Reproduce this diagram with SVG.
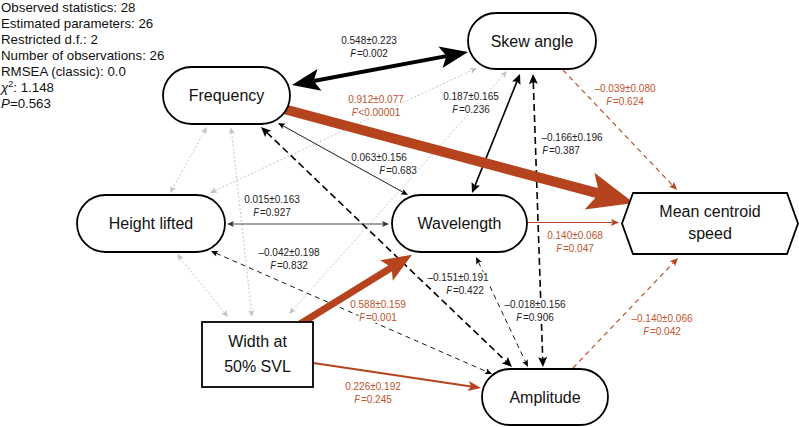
<svg xmlns="http://www.w3.org/2000/svg" width="799" height="427" viewBox="0 0 799 427">
<style>
text{font-family:"Liberation Sans",Arial,sans-serif;}
.stat{font-size:13.3px;fill:#111;}
.lbl{font-size:10px;text-anchor:middle;fill:#222;paint-order:stroke;stroke:#fff;stroke-width:4px;stroke-linejoin:round;}
.lo{fill:#c0532c;}
.nt{font-size:16px;text-anchor:middle;fill:#111;}
.node{fill:#fff;stroke:#000;stroke-width:1.8;}
.c{fill:none;}
.k4{stroke:#000;stroke-width:4;}
.k2{stroke:#000;stroke-width:1.6;}
.k1{stroke:#000;stroke-width:0.9;}
.dg{stroke:#444;stroke-width:1;}
.kd2{stroke:#000;stroke-width:1.6;stroke-dasharray:7 4;}
.kd1{stroke:#000;stroke-width:0.9;stroke-dasharray:5 4;}
.g{stroke:#c4c4c4;stroke-width:1;stroke-dasharray:2 2;}
.o10{stroke:#b5441e;stroke-width:10;}
.o7{stroke:#b5441e;stroke-width:7;}
.o2{stroke:#b5441e;stroke-width:2.2;}
.o1{stroke:#b5441e;stroke-width:1.2;}
.od{stroke:#b5441e;stroke-width:1.1;stroke-dasharray:5 4;}
</style>
<defs>
<marker id="mBigK" markerUnits="userSpaceOnUse" markerWidth="30" markerHeight="24" viewBox="0 -12 28 24" refX="6" refY="0" orient="auto-start-reverse"><path d="M28,0 L0,-11 L6,0 L0,11 Z" fill="#000"/></marker>
<marker id="mBigO" markerUnits="userSpaceOnUse" markerWidth="48" markerHeight="40" viewBox="0 -20 46 40" refX="10" refY="0" orient="auto-start-reverse"><path d="M46,0 L0,-19 L10,0 L0,19 Z" fill="#b5441e"/></marker>
<marker id="mMedO" markerUnits="userSpaceOnUse" markerWidth="32" markerHeight="26" viewBox="0 -13 30 26" refX="6" refY="0" orient="auto-start-reverse"><path d="M30,0 L0,-12 L6,0 L0,12 Z" fill="#b5441e"/></marker>
<marker id="mO2" markerUnits="userSpaceOnUse" markerWidth="14" markerHeight="12" viewBox="0 -6 13 12" refX="3" refY="0" orient="auto-start-reverse"><path d="M13,0 L0,-5 L3,0 L0,5 Z" fill="#b5441e"/></marker>
<marker id="mO1" markerUnits="userSpaceOnUse" markerWidth="9" markerHeight="8" viewBox="0 -4 8 8" refX="1.5" refY="0" orient="auto-start-reverse"><path d="M8,0 L0,-3.5 L1.5,0 L0,3.5 Z" fill="#b5441e"/></marker>
<marker id="mK2" markerUnits="userSpaceOnUse" markerWidth="11" markerHeight="10" viewBox="0 -5 10 10" refX="2" refY="0" orient="auto-start-reverse"><path d="M10,0 L0,-4.5 L2,0 L0,4.5 Z" fill="#000"/></marker>
<marker id="mK1" markerUnits="userSpaceOnUse" markerWidth="8" markerHeight="7" viewBox="0 -3.5 7 7" refX="1.5" refY="0" orient="auto-start-reverse"><path d="M7,0 L0,-3 L1.5,0 L0,3 Z" fill="#000"/></marker>
<marker id="mDG" markerUnits="userSpaceOnUse" markerWidth="8" markerHeight="7" viewBox="0 -3.5 7 7" refX="1.5" refY="0" orient="auto-start-reverse"><path d="M7,0 L0,-3 L1.5,0 L0,3 Z" fill="#333"/></marker>
<marker id="mG" markerUnits="userSpaceOnUse" markerWidth="8" markerHeight="7" viewBox="0 -3.5 7 7" refX="1.5" refY="0" orient="auto-start-reverse"><path d="M7,0 L0,-3 L1.5,0 L0,3 Z" fill="#c4c4c4"/></marker>
</defs>

<g id="stats">
<text class="stat" x="1" y="11.5">Observed statistics: 28</text>
<text class="stat" x="1" y="27.5">Estimated parameters: 26</text>
<text class="stat" x="1" y="43.5">Restricted d.f.: 2</text>
<text class="stat" x="1" y="59.5">Number of observations: 26</text>
<text class="stat" x="1" y="75.5">RMSEA (classic): 0.0</text>
<text class="stat" x="1" y="91.5"><tspan font-style="italic">χ</tspan><tspan font-size="9" dy="-5">2</tspan><tspan dy="5">: 1.148</tspan></text>
<text class="stat" x="1" y="107.5"><tspan font-style="italic">P</tspan>=0.563</text>
</g>

<g id="connectors">
<line class="c g" x1="204.3" y1="131.8" x2="172.7" y2="188.2" marker-start="url(#mG)" marker-end="url(#mG)"/>
<line class="c g" x1="231.6" y1="132.5" x2="251.4" y2="311.5" marker-start="url(#mG)" marker-end="url(#mG)"/>
<line class="c g" x1="180.5" y1="258.3" x2="224.5" y2="312.7" marker-start="url(#mG)" marker-end="url(#mG)"/>
<line class="c g" x1="215.0" y1="190.7" x2="472.0" y2="70.3" marker-start="url(#mG)" marker-end="url(#mG)"/>
<line class="c g" x1="292.7" y1="309.9" x2="503.3" y2="75.1" marker-start="url(#mG)" marker-end="url(#mG)"/>

<line class="c k4" x1="313.6" y1="81.0" x2="446.4" y2="56.1" marker-start="url(#mBigK)" marker-end="url(#mBigK)"/>
<line class="c k2" x1="517.0" y1="81.4" x2="475.0" y2="185.6" marker-start="url(#mK2)" marker-end="url(#mK2)"/>
<line class="c k1" x1="282.8" y1="125.7" x2="403.2" y2="192.3" marker-start="url(#mK1)" marker-end="url(#mK1)"/>
<line class="c dg" x1="232.5" y1="224" x2="383.5" y2="224" marker-start="url(#mDG)" marker-end="url(#mDG)"/>
<line class="c kd2" x1="266.8" y1="132.5" x2="506.2" y2="361.5" marker-start="url(#mK2)" marker-end="url(#mK2)"/>
<line class="c kd1" x1="478.4" y1="262.0" x2="525.6" y2="362.0" marker-start="url(#mK1)" marker-end="url(#mK1)"/>
<line class="c kd2" x1="533.3" y1="82" x2="542.7" y2="359" marker-start="url(#mK2)" marker-end="url(#mK2)"/>
<line class="c kd1" x1="216.0" y1="253.2" x2="487.0" y2="371.8" marker-start="url(#mK1)" marker-end="url(#mK1)"/>

<line class="c o10" x1="280" y1="108" x2="599.2" y2="193.7" marker-end="url(#mBigO)"/>
<line class="c o7" x1="300" y1="324" x2="391.6" y2="267.4" marker-end="url(#mMedO)"/>
<line class="c o2" x1="310" y1="362.5" x2="471.1" y2="386.5" marker-end="url(#mO2)"/>
<line class="c o1" x1="527" y1="222.5" x2="612.5" y2="222.5" marker-end="url(#mO1)"/>
<line class="c od" x1="563" y1="70" x2="672.5" y2="185.3" marker-end="url(#mO1)"/>
<line class="c od" x1="573" y1="368" x2="673.5" y2="262.7" marker-end="url(#mO1)"/>
</g>

<g id="labels">
<text class="lbl" x="369" y="44">0.548±0.223</text>
<text class="lbl" x="369" y="57"><tspan font-style="italic">P</tspan>=0.002</text>
<text class="lbl lo" x="376" y="103">0.912±0.077</text>
<text class="lbl lo" x="376" y="116"><tspan font-style="italic">P</tspan>&lt;0.00001</text>
<text class="lbl" x="471" y="100">0.187±0.165</text>
<text class="lbl" x="471" y="113"><tspan font-style="italic">P</tspan>=0.236</text>
<text class="lbl" x="379" y="160.5">0.063±0.156</text>
<text class="lbl" x="398" y="173.5"><tspan font-style="italic">P</tspan>=0.683</text>
<text class="lbl" x="272" y="203">0.015±0.163</text>
<text class="lbl" x="272" y="216"><tspan font-style="italic">P</tspan>=0.927</text>
<text class="lbl" x="289" y="256">–0.042±0.198</text>
<text class="lbl" x="289" y="269"><tspan font-style="italic">P</tspan>=0.832</text>
<text class="lbl lo" x="378" y="308">0.588±0.159</text>
<text class="lbl lo" x="378" y="321"><tspan font-style="italic">P</tspan>=0.001</text>
<text class="lbl lo" x="373" y="390">0.226±0.192</text>
<text class="lbl lo" x="373" y="403"><tspan font-style="italic">P</tspan>=0.245</text>
<text class="lbl" x="458" y="281">–0.151±0.191</text>
<text class="lbl" x="465" y="294"><tspan font-style="italic">P</tspan>=0.422</text>
<text class="lbl" x="535" y="308">–0.018±0.156</text>
<text class="lbl" x="535" y="321"><tspan font-style="italic">P</tspan>=0.906</text>
<text class="lbl" x="572" y="141">–0.166±0.196</text>
<text class="lbl" x="561" y="154"><tspan font-style="italic">P</tspan>=0.387</text>
<text class="lbl lo" x="625" y="92">–0.039±0.080</text>
<text class="lbl lo" x="625" y="105"><tspan font-style="italic">P</tspan>=0.624</text>
<text class="lbl lo" x="575" y="239">0.140±0.068</text>
<text class="lbl lo" x="575" y="252"><tspan font-style="italic">P</tspan>=0.047</text>
<text class="lbl lo" x="662" y="322">–0.140±0.066</text>
<text class="lbl lo" x="662" y="335"><tspan font-style="italic">P</tspan>=0.042</text>
</g>

<g id="node-frequency">
<rect class="node" x="163" y="67" width="127" height="57" rx="28.5"/>
<text class="nt" x="226.5" y="101">Frequency</text>
</g>
<g id="node-skew">
<rect class="node" x="468" y="13" width="128" height="56" rx="28"/>
<text class="nt" x="532" y="46.5">Skew angle</text>
</g>
<g id="node-height">
<rect class="node" x="77" y="195" width="148" height="57" rx="28.5"/>
<text class="nt" x="151" y="229">Height lifted</text>
</g>
<g id="node-wavelength">
<rect class="node" x="392" y="195" width="135" height="57" rx="28.5"/>
<text class="nt" x="459.5" y="229">Wavelength</text>
</g>
<g id="node-amplitude">
<rect class="node" x="482" y="369" width="126" height="56" rx="28"/>
<text class="nt" x="545" y="403">Amplitude</text>
</g>
<g id="node-width">
<rect class="node" x="202" y="322" width="111" height="65"/>
<text class="nt" x="257.5" y="347">Width at</text>
<text class="nt" x="257.5" y="372">50% SVL</text>
</g>
<g id="node-speed">
<polygon class="node" points="622,223.5 633,193 787,193 798,223.5 787,254 633,254"/>
<text class="nt" x="710" y="217">Mean centroid</text>
<text class="nt" x="710" y="239">speed</text>
</g>
</svg>
